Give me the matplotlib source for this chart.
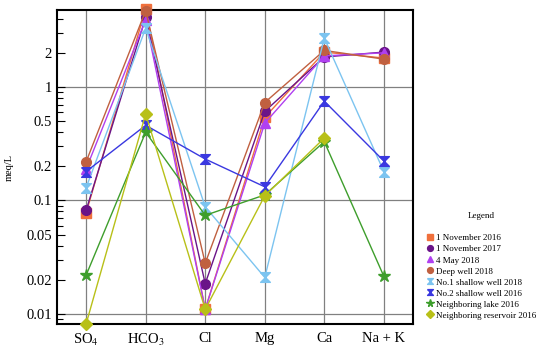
import numpy as np
import matplotlib.pyplot as plt
from matplotlib.ticker import FixedLocator, NullFormatter

plt.rcParams['font.family'] = ['Liberation Serif', 'DejaVu Serif']
plt.rcParams['mathtext.fontset'] = 'stix'

categories = ['SO$_4$', 'HCO$_3$', 'Cl', 'Mg', 'Ca', 'Na + K']
nan = np.nan

# meq/L
nov_2016 = [0.078, 4.9, 0.011, 0.54, 2.03, 1.8]
nov_2017 = [0.082, 4.1, 0.0185, 0.61, 1.84, 2.03]
may_2018 = [0.19, 3.9, 0.011, 0.48, 1.88, 2.0]
deep_well_2018 = [0.22, 4.7, 0.028, 0.73, 2.1, 1.76]
shallow1_2018 = [0.13, 3.3, 0.088, 0.021, 2.7, 0.18]
shallow2_2016 = [0.18, 0.46, 0.232, 0.132, 0.75, 0.223]
lake_2016 = [0.022, 0.40, 0.074, 0.112, 0.33, 0.0215]
reservoir_2016 = [0.0082, 0.58, 0.011, 0.11, 0.355, nan]

hourglass = [(-1, 1), (1, 1), (-1, -1), (1, -1), (-1, 1)]

series = [
    ('1 November 2016', nov_2016, '#f0703c', 's'),
    ('1 November 2017', nov_2017, '#6a1488', 'o'),
    ('4 May 2018', may_2018, '#b040f0', '^'),
    ('Deep well 2018', deep_well_2018, '#c06040', 'o'),
    ('No.1 shallow well 2018', shallow1_2018, '#7cc4f0', hourglass),
    ('No.2 shallow well 2016', shallow2_2016, '#3a38e0', hourglass),
    ('Neighboring lake 2016', lake_2016, '#3e9e2c', '*'),
    ('Neighboring reservoir 2016', reservoir_2016, '#b8c018', 'D'),
]

y_labels = [0.01, 0.02, 0.05, 0.1, 0.2, 0.5, 1, 2]
y_grid = [0.01, 0.1, 1]

fig = plt.figure(figsize=(5.5, 3.52), dpi=100)
ax = fig.add_axes([0.1036, 0.0795, 0.6473, 0.8921])

x = np.arange(len(categories))
for xv in x:
    ax.axvline(xv, color='#808080', lw=0.9, zorder=1)
for yv in y_grid:
    ax.axhline(yv, color='#808080', lw=0.9, zorder=1)

for name, vals, col, mk in series:
    ms = 9 if mk == '*' else (6.5 if mk == 'D' else 7)
    ax.plot(x, vals, color=col, lw=1.0, marker=mk, ms=ms, label=name,
            clip_on=False, zorder=3)

ax.set_yscale('log')
ax.set_ylim(0.00816, 4.77)
ax.set_xlim(-0.49, 5.49)
ax.yaxis.set_major_locator(FixedLocator(y_labels))
ax.set_yticklabels([f'{v:g}' for v in y_labels])
minor = [v * d for d in [0.001, 0.01, 0.1, 1] for v in range(2, 10)]
minor = [m for m in minor if m not in y_labels]
ax.yaxis.set_minor_locator(FixedLocator(minor))
ax.yaxis.set_minor_formatter(NullFormatter())
ax.tick_params(axis='y', which='major', direction='in', length=6, width=0.8, labelsize=10.5)
ax.tick_params(axis='y', which='minor', direction='in', length=4, width=0.8)
ax.set_xticks(x)
ax.set_xticklabels(categories)
ax.tick_params(axis='x', length=0, labelsize=10.5, pad=6)
for s in ax.spines.values():
    s.set_linewidth(1.5)
ax.set_ylabel('meq/L', fontsize=7.5, labelpad=9)

leg = fig.legend(loc='upper left', bbox_to_anchor=(0.765, 0.415), frameon=False,
                 title='Legend', fontsize=6.5, title_fontsize=6.5,
                 handlelength=0.6, handletextpad=0.4, labelspacing=0.3,
                 markerscale=0.6, borderpad=0.2)
for h in leg.legend_handles:
    h.set_linestyle('none')
leg._legend_box.align = 'center'
leg._legend_box.sep = 10

fig.savefig('out.png', dpi=100)
